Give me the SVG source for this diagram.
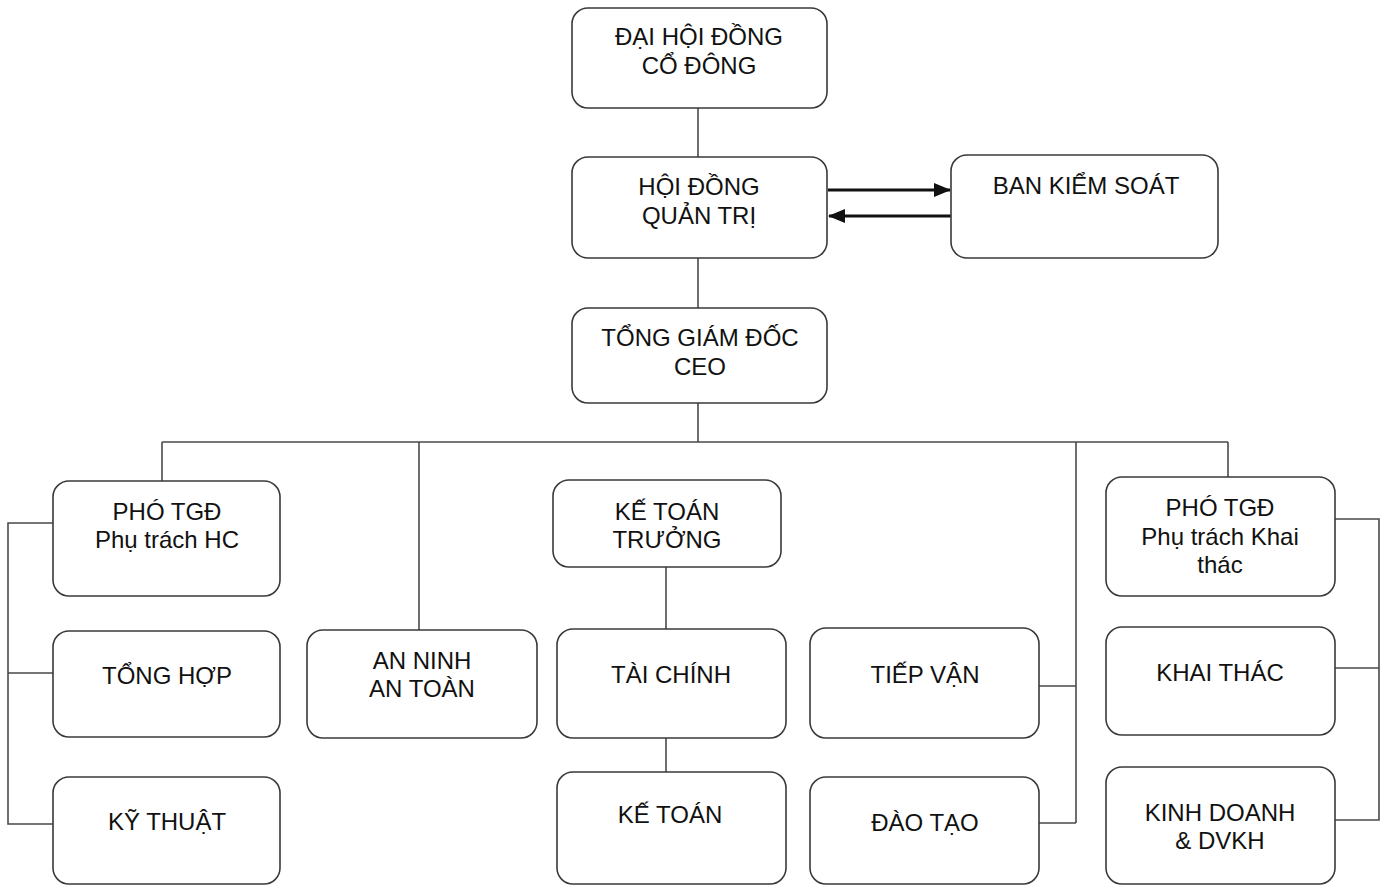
<svg xmlns="http://www.w3.org/2000/svg" width="1382" height="885" viewBox="0 0 1382 885">
<style>
.box{fill:#fff;stroke:#3a3a3a;stroke-width:1.6}
.t{font-family:"Liberation Sans",Arial,sans-serif;font-size:24px;fill:#111;text-anchor:middle}
.ln{fill:none;stroke:#4a4a4a;stroke-width:1.6}
.ar{fill:none;stroke:#111;stroke-width:2.8}
</style>
<defs>
<marker id="ah" markerWidth="17" markerHeight="14" refX="16" refY="7" orient="auto" markerUnits="userSpaceOnUse">
<path d="M0,0 L17,7 L0,14 Z" fill="#111"/>
</marker>
</defs>
<rect width="1382" height="885" fill="#fff"/>
<g id="connectors">
<path class="ln" d="M698,108 V157 M698,258 V308 M698,403 V442 M162,442 H1228 M162,442 V481 M419,442 V630 M1076,442 V823 M1228,442 V477"/>
<path class="ln" d="M53,523 H8 V824 H53 M8,673 H53"/>
<path class="ln" d="M1335,519 H1379 V820 H1335 M1335,668 H1379"/>
<path class="ln" d="M1039,686 H1076 M1039,823 H1076"/>
<path class="ln" d="M666,567 V629 M666,738 V772"/>
<line class="ar" x1="828" y1="190" x2="950" y2="190" marker-end="url(#ah)"/>
<line class="ar" x1="951" y1="216" x2="829" y2="216" marker-end="url(#ah)"/>
</g>
<g id="n-dhdcd"><rect class="box" x="572" y="8" width="255" height="100" rx="16"/><text class="t" x="699" y="45">ĐẠI HỘI ĐỒNG</text><text class="t" x="699" y="74">CỔ ĐÔNG</text></g>
<g id="n-hdqt"><rect class="box" x="572" y="157" width="255" height="101" rx="16"/><text class="t" x="699" y="195">HỘI ĐỒNG</text><text class="t" x="699" y="224">QUẢN TRỊ</text></g>
<g id="n-bks"><rect class="box" x="951" y="155" width="267" height="103" rx="16"/><text class="t" x="1086" y="194">BAN KIỂM SOÁT</text></g>
<g id="n-ceo"><rect class="box" x="572" y="308" width="255" height="95" rx="16"/><text class="t" x="700" y="346">TỔNG GIÁM ĐỐC</text><text class="t" x="700" y="375">CEO</text></g>
<g id="n-phohc"><rect class="box" x="53" y="481" width="227" height="115" rx="16"/><text class="t" x="167" y="520">PHÓ TGĐ</text><text class="t" x="167" y="548">Phụ trách HC</text></g>
<g id="n-tonghop"><rect class="box" x="53" y="631" width="227" height="106" rx="16"/><text class="t" x="167" y="684">TỔNG HỢP</text></g>
<g id="n-kythuat"><rect class="box" x="53" y="777" width="227" height="107" rx="16"/><text class="t" x="167" y="830">KỸ THUẬT</text></g>
<g id="n-anninh"><rect class="box" x="307" y="630" width="230" height="108" rx="16"/><text class="t" x="422" y="669">AN NINH</text><text class="t" x="422" y="697">AN TOÀN</text></g>
<g id="n-ktt"><rect class="box" x="553" y="480" width="228" height="87" rx="16"/><text class="t" x="667" y="520">KẾ TOÁN</text><text class="t" x="667" y="548">TRƯỞNG</text></g>
<g id="n-taichinh"><rect class="box" x="557" y="629" width="229" height="109" rx="16"/><text class="t" x="671" y="683">TÀI CHÍNH</text></g>
<g id="n-ketoan"><rect class="box" x="557" y="772" width="229" height="112" rx="16"/><text class="t" x="670" y="823">KẾ TOÁN</text></g>
<g id="n-tiepvan"><rect class="box" x="810" y="628" width="229" height="110" rx="16"/><text class="t" x="925" y="683">TIẾP VẬN</text></g>
<g id="n-daotao"><rect class="box" x="810" y="777" width="229" height="107" rx="16"/><text class="t" x="925" y="831">ĐÀO TẠO</text></g>
<g id="n-phokt"><rect class="box" x="1106" y="477" width="229" height="119" rx="16"/><text class="t" x="1220" y="516">PHÓ TGĐ</text><text class="t" x="1220" y="545">Phụ trách Khai</text><text class="t" x="1220" y="573">thác</text></g>
<g id="n-khaithac"><rect class="box" x="1106" y="627" width="229" height="108" rx="16"/><text class="t" x="1220" y="681">KHAI THÁC</text></g>
<g id="n-kinhdoanh"><rect class="box" x="1106" y="767" width="229" height="117" rx="16"/><text class="t" x="1220" y="821">KINH DOANH</text><text class="t" x="1220" y="849">&amp; DVKH</text></g>
</svg>
